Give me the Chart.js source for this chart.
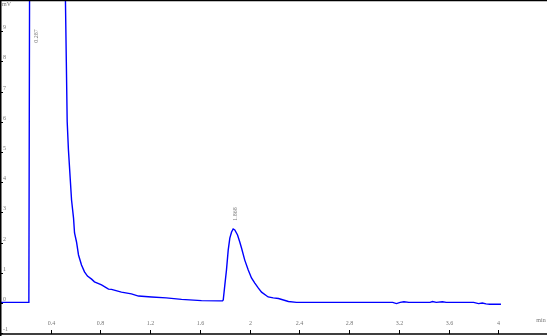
<!DOCTYPE html>
<html>
<head>
<meta charset="utf-8">
<script src="https://cdn.jsdelivr.net/npm/chart.js@4/dist/chart.umd.min.js"></script>
<style>
	html, body { margin: 0; padding: 0; background: #fff; }
	#wrap { width: 547px; height: 336px; position: relative; }
</style>
</head>
<body>
<div id="wrap"><canvas id="chromChart"></canvas></div>
<script>
// retention time (min) and detector signal (mV)
var times = [0, 0.10, 0.22, 0.226, 0.232, 0.25, 0.30, 0.40, 0.48, 0.51,
	0.520, 0.527, 0.534, 0.544, 0.569, 0.585, 0.593, 0.609, 0.625, 0.649,
	0.673, 0.697, 0.73, 0.753, 0.81, 0.866, 0.89, 0.97, 1.05, 1.107,
	1.212, 1.33, 1.453, 1.613, 1.758, 1.782,
	1.788, 1.801, 1.814, 1.828, 1.841, 1.855, 1.868, 1.881, 1.903, 1.921,
	1.935, 1.961, 1.989, 2.015, 2.042, 2.069, 2.096, 2.149, 2.19, 2.232,
	2.312, 2.377, 2.8, 3.15, 3.18, 3.21, 3.24, 3.28, 3.45, 3.47,
	3.5, 3.55, 3.58, 3.8, 3.84, 3.87, 3.9, 3.93, 4.02];
var signal = [0.02, 0.02, 0.02, 0.08, 11, 30, 45, 30, 16, 11,
	10.0, 8.0, 6.0, 5.07, 3.41, 2.81, 2.32, 2.02, 1.59, 1.26,
	1.03, 0.89, 0.79, 0.70, 0.60, 0.46, 0.45, 0.36, 0.30, 0.23,
	0.20, 0.17, 0.12, 0.08, 0.07, 0.07,
	0.10, 0.60, 1.09, 1.75, 2.15, 2.35, 2.45, 2.42, 2.25, 2.02,
	1.82, 1.42, 1.09, 0.83, 0.66, 0.50, 0.36, 0.20, 0.17, 0.15,
	0.05, 0.02, 0.02, 0.02, -0.02, 0.02, 0.04, 0.02, 0.02, 0.05,
	0.02, 0.04, 0.02, 0.02, -0.02, 0.0, -0.03, -0.04, -0.04];

var xTicks = [0.4, 0.8, 1.2, 1.6, 2, 2.4, 2.8, 3.2, 3.6, 4];
var xTickLabels = ['0.4', '0.8', '1.2', '1.6', '2', '2.4', '2.8', '3.2', '3.6', '4'];
var yTicks = [-1, 0, 1, 2, 3, 4, 5, 6, 7, 8, 9];
var yTickLabels = ['-1', '0', '1', '2', '3', '4', '5', '6', '7', '8', '9'];

var peakTimes = [0.287, 1.888];
var peakLabels = ['0.287', '1.868'];

var points = [];
for (var i = 0; i < times.length; i++) {
	points.push({ x: times[i], y: signal[i] });
}

// axes frame, inside ticks and small labels, drawn from the chart scales
var framePlugin = {
	id: 'frame',
	afterDraw: function(chart) {
		var ctx = chart.ctx;
		var xs = chart.scales.x;
		var ys = chart.scales.y;
		ctx.save();
		ctx.strokeStyle = '#000';
		ctx.lineWidth = 1.5;
		ctx.beginPath();
		ctx.moveTo(0, 0.5); ctx.lineTo(547, 0.5);
		ctx.moveTo(0.75, 0); ctx.lineTo(0.75, 336);
		ctx.moveTo(0, 334); ctx.lineTo(547, 334);
		ctx.stroke();

		ctx.lineWidth = 1;
		ctx.font = '6px "Liberation Serif"';
		ctx.fillStyle = '#777';
		ctx.textBaseline = 'middle';

		// y ticks
		ctx.textAlign = 'left';
		for (var i = 0; i < yTicks.length; i++) {
			var py = Math.round(ys.getPixelForValue(yTicks[i])) + 0.5;
			ctx.beginPath();
			ctx.moveTo(0, py); ctx.lineTo(3, py);
			ctx.stroke();
			ctx.fillText(yTickLabels[i], 3, py - 4.5);
		}
		ctx.fillText('mV', 2, 4.5);

		// x ticks
		ctx.textAlign = 'center';
		for (var j = 0; j < xTicks.length; j++) {
			var px = Math.round(xs.getPixelForValue(xTicks[j])) + 0.5;
			ctx.beginPath();
			ctx.moveTo(px, 334); ctx.lineTo(px, 330);
			ctx.stroke();
			ctx.fillText(xTickLabels[j], px, 323);
		}
		ctx.fillText('min', 541, 320.5);

		// peak retention time labels, rotated
		var peakY = [36, 214];
		for (var k = 0; k < peakTimes.length; k++) {
			var qx = xs.getPixelForValue(peakTimes[k]);
			ctx.save();
			ctx.translate(qx, peakY[k]);
			ctx.rotate(-Math.PI / 2);
			ctx.textAlign = 'center';
			ctx.fillText(peakLabels[k], 0, 0);
			ctx.restore();
		}
		ctx.restore();
	}
};

var chromCanvas = document.getElementById('chromChart').getContext('2d');
var chromChart = new Chart(chromCanvas, {
	type: 'line',
	data: {
		datasets: [{
			data: points,
			borderColor: '#0000ff',
			borderWidth: 1.4,
			pointRadius: 0,
			tension: 0,
			fill: false
		}]
	},
	options: {
		responsive: true,
		maintainAspectRatio: false,
		animation: false,
		parsing: true,
		layout: { padding: 0 },
		plugins: {
			legend: { display: false },
			tooltip: { enabled: false }
		},
		scales: {
			x: { type: 'linear', min: -0.006, max: 4.39, display: false },
			y: { type: 'linear', min: -1.093, max: 10.033, display: false }
		}
	},
	plugins: [framePlugin]
});
</script>
</body>
</html>
